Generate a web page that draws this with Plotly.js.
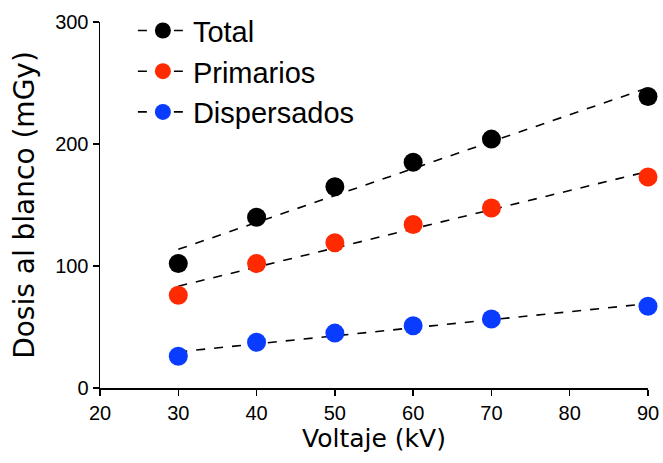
<!DOCTYPE html>
<html>
<head>
<meta charset="utf-8">
<script src="https://cdn.plot.ly/plotly-3.0.1.min.js"></script>
<style>html,body{margin:0;padding:0;background:#fff;}#chart{width:663px;height:463px;}</style>
</head>
<body>
<div id="chart"></div>
<script>
const voltaje = [30, 40, 50, 60, 70, 90];
const total = [102, 140, 165, 185, 204, 239];
const primarios = [76, 102, 119, 134, 147.5, 173];
const dispersados = [26, 37.5, 45, 51, 56.5, 67];
const seriesNames = ['Total', 'Primarios', 'Dispersados'];
const seriesColors = ['#000000', '#ff2a00', '#0a3cff'];
const xTicks = [20, 30, 40, 50, 60, 70, 80, 90];
const yTicks = [0, 100, 200, 300];

function fit(x, y) {
  const n = x.length;
  const mx = x.reduce((a, b) => a + b, 0) / n;
  const my = y.reduce((a, b) => a + b, 0) / n;
  let sxy = 0, sxx = 0;
  for (let i = 0; i < n; i++) { sxy += (x[i] - mx) * (y[i] - my); sxx += (x[i] - mx) ** 2; }
  const m = sxy / sxx, b = my - m * mx;
  const xs = [Math.min(...x), Math.max(...x)];
  return { x: xs, y: xs.map(v => m * v + b) };
}

const allSeries = [total, primarios, dispersados];
const traces = [];
allSeries.forEach((ys, i) => {
  const f = fit(voltaje, ys);
  traces.push({ x: f.x, y: f.y, mode: 'lines', line: { color: '#000', width: 1.6, dash: 'dash' }, showlegend: false, hoverinfo: 'skip', cliponaxis: false });
});
allSeries.forEach((ys, i) => {
  traces.push({ x: voltaje, y: ys, mode: 'markers', marker: { color: seriesColors[i], size: 19 }, showlegend: false, cliponaxis: false });
});
seriesNames.forEach((name, i) => {
  traces.push({ x: [null], y: [null], name: name, legendgroup: 'g' + i, mode: 'lines+markers',
    marker: { color: seriesColors[i], size: 19 }, line: { color: '#000', width: 1.6, dash: 'dash' } });
});

const layout = {
  width: 663, height: 463,
  margin: { l: 100, r: 15, t: 22, b: 75, autoexpand: false },
  paper_bgcolor: '#fff', plot_bgcolor: '#fff',
  font: { family: 'Liberation Sans, Arial, sans-serif', color: '#000' },
  xaxis: {
    range: [20, 90], tickvals: xTicks, ticktext: xTicks.map(String),
    showgrid: false, zeroline: false, showline: true, linecolor: '#000', linewidth: 1.5,
    ticks: 'outside', ticklen: 6, tickwidth: 1.5, tickcolor: '#000',
    tickfont: { size: 20, family: 'Liberation Sans, Arial, sans-serif' },
    title: { text: 'Voltaje (kV)', font: { size: 25, family: 'DejaVu Sans, sans-serif' }, standoff: 6 }
  },
  yaxis: {
    range: [0, 300], tickvals: yTicks, ticktext: yTicks.map(String),
    showgrid: false, zeroline: false, showline: true, linecolor: '#000', linewidth: 1.5,
    ticks: 'outside', ticklen: 6, tickwidth: 1.5, tickcolor: '#000',
    tickfont: { size: 20, family: 'Liberation Sans, Arial, sans-serif' },
    title: { text: 'Dosis al blanco (mGy)', font: { size: 28, family: 'DejaVu Sans, sans-serif' }, standoff: 12 }
  },
  legend: {
    x: 0.06, y: 1.046, xanchor: 'left', yanchor: 'top',
    font: { size: 29, family: 'Liberation Sans, Arial, sans-serif' },
    bgcolor: 'rgba(0,0,0,0)', traceorder: 'grouped', tracegroupgap: 0, itemwidth: 50
  },
  showlegend: true
};

Plotly.newPlot('chart', traces, layout, { displayModeBar: false, staticPlot: true });
</script>
</body>
</html>
